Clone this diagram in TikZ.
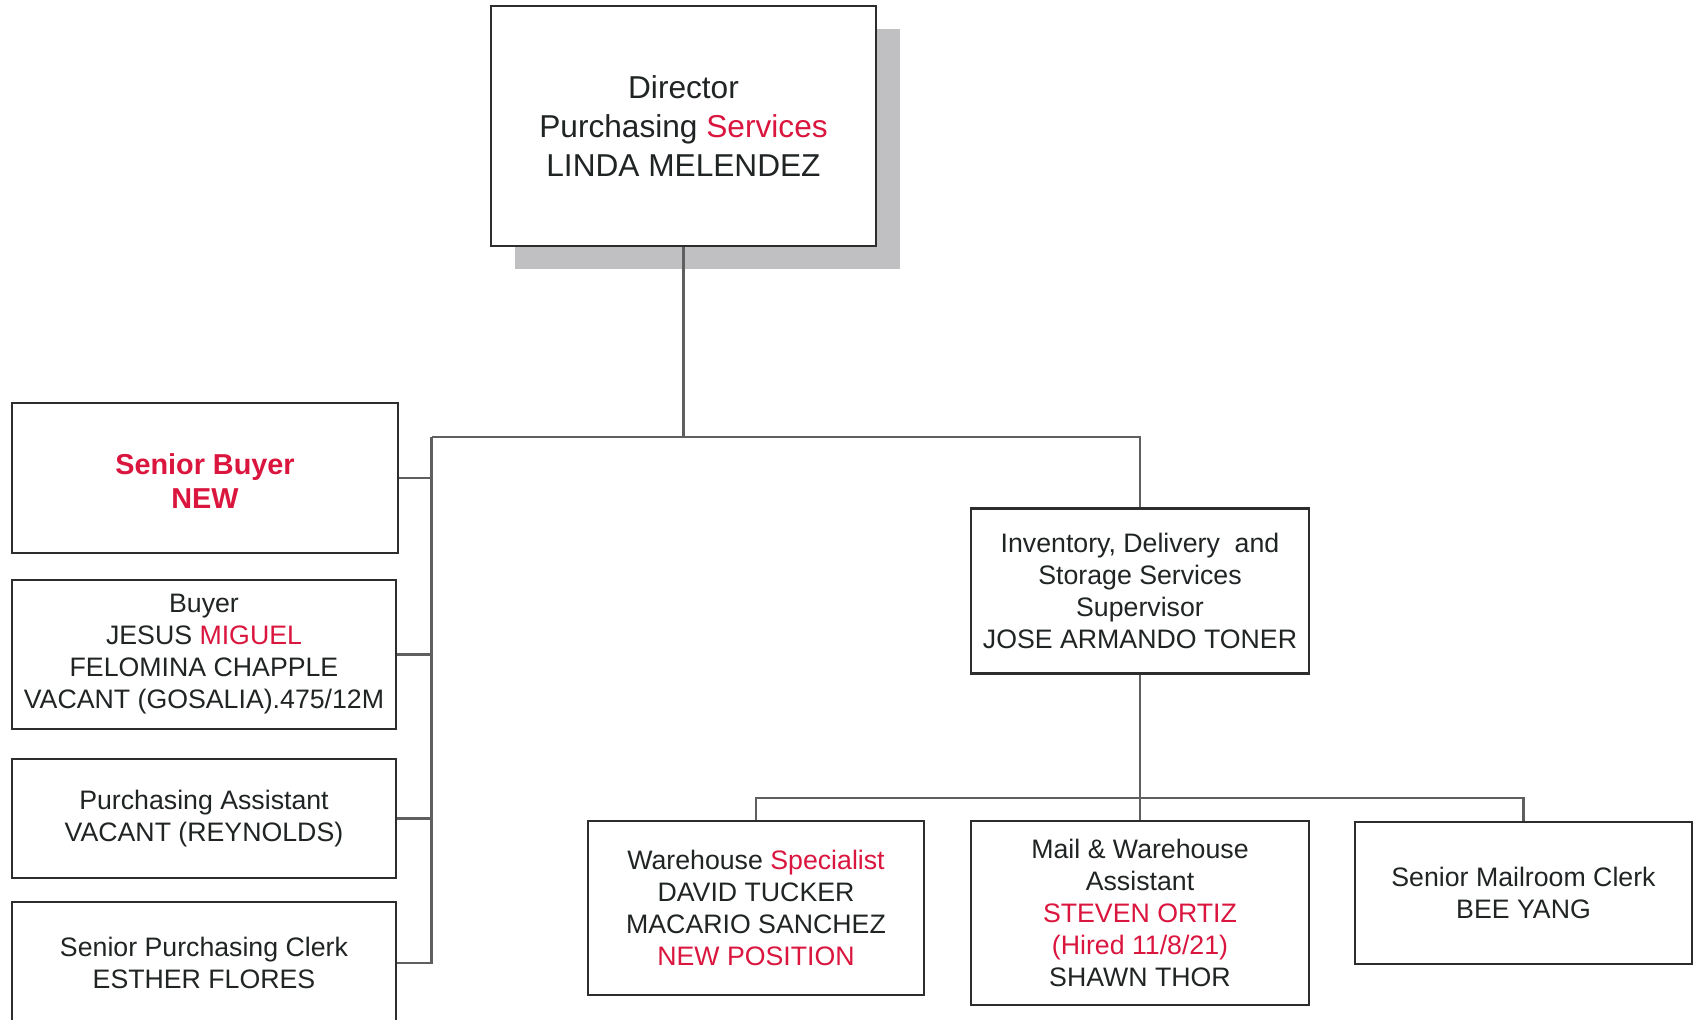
\documentclass[tikz,border=0pt]{standalone}
\usepackage{fontspec}
\setmainfont{Liberation Sans}
\usepackage{tikz}
\usetikzlibrary{positioning, calc, shadows}
\definecolor{ink}{RGB}{32,36,36}
\definecolor{hl}{RGB}{218,22,62}
\definecolor{edge}{RGB}{45,45,45}
\definecolor{wire}{RGB}{95,95,95}
\definecolor{shadowgray}{RGB}{192,192,194}
\tikzset{
    post/.style={rectangle, draw=edge, line width=0.75pt, fill=white, text=ink, align=center, inner sep=0pt, font=\fontsize{7.6}{9.1}\selectfont},
    head/.style={post, font=\fontsize{9}{11.1}\selectfont, drop shadow={shadow xshift=2.4mm, shadow yshift=-2.35mm, fill=shadowgray, opacity=1}},
    wire/.style={draw=wire, line width=0.7pt}
}

\begin{document}
\begin{tikzpicture}
\useasboundingbox (0,0) rectangle (17,10.2);

% Nodes
\node (director) [head, minimum width=3.85cm, minimum height=2.40cm] at (6.835,8.94) {Director\\Purchasing \textcolor{hl}{Services}\\LINDA MELENDEZ};
\node (sbuyer) [post, minimum width=3.86cm, minimum height=1.50cm, font=\fontsize{8.2}{9.7}\selectfont\bfseries, text=hl] at (2.05,5.42) {\\[-0.75mm]Senior Buyer\\NEW};
\node (buyer) [post, minimum width=3.84cm, minimum height=1.49cm] at (2.04,3.655) {Buyer\\JESUS \textcolor{hl}{MIGUEL}\\FELOMINA CHAPPLE\\VACANT (GOSALIA).475/12M};
\node (passist) [post, minimum width=3.84cm, minimum height=1.19cm] at (2.04,2.015) {Purchasing Assistant\\VACANT (REYNOLDS)};
\node (spclerk) [post, minimum width=3.84cm, minimum height=1.22cm] at (2.04,0.57) {Senior Purchasing Clerk\\ESTHER FLORES};
\node (supv) [post, minimum width=3.38cm, minimum height=1.655cm] at (11.40,4.29) {Inventory, Delivery~ and\\Storage Services\\Supervisor\\JOSE ARMANDO TONER};
\node (whspec) [post, minimum width=3.36cm, minimum height=1.74cm] at (7.56,1.12) {Warehouse \textcolor{hl}{Specialist}\\DAVID TUCKER\\MACARIO SANCHEZ\\\textcolor{hl}{NEW POSITION}};
\node (mailwh) [post, minimum width=3.38cm, minimum height=1.84cm] at (11.40,1.07) {Mail \& Warehouse\\Assistant\\\textcolor{hl}{STEVEN ORTIZ}\\\textcolor{hl}{(Hired 11/8/21)}\\SHAWN THOR};
\node (mailclerk) [post, minimum width=3.37cm, minimum height=1.42cm] at (15.235,1.27) {Senior Mailroom Clerk\\BEE YANG};

\coordinate (lbus) at (4.315,5.83);
\coordinate (rbus) at (11.40,2.22);

% Lines
\draw [wire] (director) -- (director |- lbus);
\draw [wire] (lbus) -| (supv.north);
\draw [wire] (lbus) |- (sbuyer.east);
\draw [wire] (lbus) |- (buyer.east);
\draw [wire] (lbus) |- (passist.east);
\draw [wire] (lbus) |- (spclerk.east);
\draw [wire] (supv) -- (mailwh);
\draw [wire] (whspec.north) |- (rbus) -| (mailclerk.north);

\end{tikzpicture}
\end{document}
